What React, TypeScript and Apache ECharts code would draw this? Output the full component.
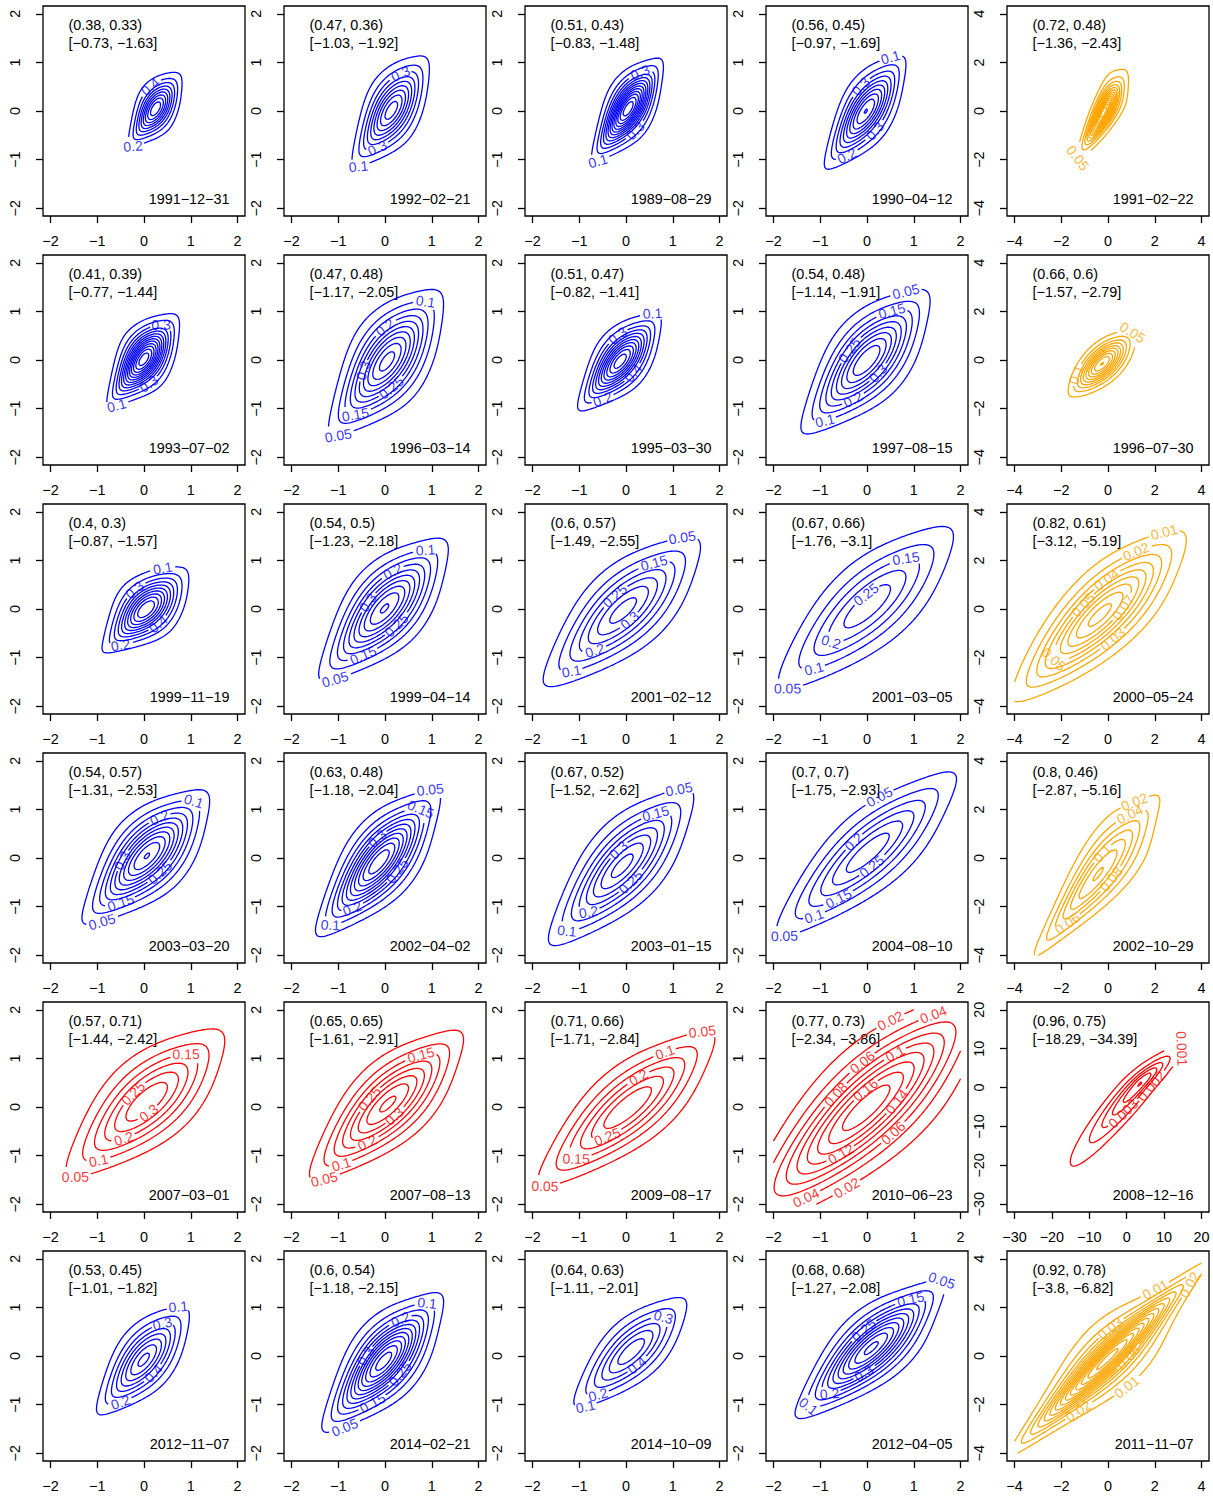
import React, { useEffect, useRef } from "react";
import * as echarts from "echarts";

// ---------------- data ----------------
const panelDates = [
  "1991-12-31", "1992-02-21", "1989-08-29", "1990-04-12", "1991-02-22",
  "1993-07-02", "1996-03-14", "1995-03-30", "1997-08-15", "1996-07-30",
  "1999-11-19", "1999-04-14", "2001-02-12", "2001-03-05", "2000-05-24",
  "2003-03-20", "2002-04-02", "2003-01-15", "2004-08-10", "2002-10-29",
  "2007-03-01", "2007-08-13", "2009-08-17", "2010-06-23", "2008-12-16",
  "2012-11-07", "2014-02-21", "2014-10-09", "2012-04-05", "2011-11-07",
];

const dependencePairs = [
  [0.38, 0.33], [0.47, 0.36], [0.51, 0.43], [0.56, 0.45], [0.72, 0.48],
  [0.41, 0.39], [0.47, 0.48], [0.51, 0.47], [0.54, 0.48], [0.66, 0.6],
  [0.4, 0.3], [0.54, 0.5], [0.6, 0.57], [0.67, 0.66], [0.82, 0.61],
  [0.54, 0.57], [0.63, 0.48], [0.67, 0.52], [0.7, 0.7], [0.8, 0.46],
  [0.57, 0.71], [0.65, 0.65], [0.71, 0.66], [0.77, 0.73], [0.96, 0.75],
  [0.53, 0.45], [0.6, 0.54], [0.64, 0.63], [0.68, 0.68], [0.92, 0.78],
];

const riskPairs = [
  [-0.73, -1.63], [-1.03, -1.92], [-0.83, -1.48], [-0.97, -1.69], [-1.36, -2.43],
  [-0.77, -1.44], [-1.17, -2.05], [-0.82, -1.41], [-1.14, -1.91], [-1.57, -2.79],
  [-0.87, -1.57], [-1.23, -2.18], [-1.49, -2.55], [-1.76, -3.1], [-3.12, -5.19],
  [-1.31, -2.53], [-1.18, -2.04], [-1.52, -2.62], [-1.75, -2.93], [-2.87, -5.16],
  [-1.44, -2.42], [-1.61, -2.91], [-1.71, -2.84], [-2.34, -3.86], [-18.29, -34.39],
  [-1.01, -1.82], [-1.18, -2.15], [-1.11, -2.01], [-1.27, -2.08], [-3.8, -6.82],
];

const B = "#0000FF", O = "#FFA500", R = "#FF0000";
const panelColors = [
  B, B, B, B, O,
  B, B, B, B, O,
  B, B, B, B, O,
  B, B, B, B, O,
  R, R, R, R, R,
  B, B, B, B, O,
];

// axis kind: n = [-2,2], w = [-4,4], c = [-30,20]
const panelRange = [
  "n", "n", "n", "n", "w",
  "n", "n", "n", "n", "w",
  "n", "n", "n", "n", "w",
  "n", "n", "n", "n", "w",
  "n", "n", "n", "n", "c",
  "n", "n", "n", "n", "w",
];

const ticksNarrow = [-2, -1, 0, 1, 2];
const ticksWide = [-4, -2, 0, 2, 4];
const ticksCrisis = [-30, -20, -10, 0, 10, 20];

// density parameters per panel: margins (location, scale, left/right scale ratio, df; 0 = normal),
// t-copula (rho, df) mixed with a Clayton copula (theta, weight)
const meanX = [0.25, 0.14, 0.05, -0.02, -0.15, 0, 0.05, -0.12, 0, -0.25, 0.05, 0, -0.05, 0.02, -0.3, 0.07, -0.12, -0.07, 0.03, -0.25, 0.07, 0.07, 0.05, 0, 2, 0, -0.02, 0.12, 0.1, 0];
const meanY = [0.05, 0.02, 0.05, 0, 0, 0.02, -0.02, -0.02, 0, -0.15, 0, 0.02, -0.02, 0.07, -0.2, 0.05, -0.07, -0.15, 0.12, -0.45, 0.12, 0.07, 0, 0, 1, -0.07, -0.1, 0.1, 0.17, -0.1];
const scaleX = [0.28, 0.4, 0.34, 0.41, 0.45, 0.35, 0.58, 0.41, 0.65, 0.68, 0.44, 0.65, 0.84, 1.0, 1.75, 0.63, 0.6, 0.75, 0.97, 1.3, 0.87, 0.8, 0.95, 1.25, 6.5, 0.49, 0.58, 0.62, 0.72, 1.7];
const scaleY = [0.37, 0.55, 0.47, 0.55, 0.75, 0.43, 0.71, 0.46, 0.7, 0.64, 0.42, 0.69, 0.77, 0.89, 1.65, 0.64, 0.68, 0.78, 0.85, 1.6, 0.78, 0.75, 0.8, 1.15, 5.5, 0.55, 0.64, 0.58, 0.64, 1.6];
const skewX = [1, 1, 1, 1, 1, 1, 1, 1, 1, 1, 1, 1, 1, 1, 1, 1, 1, 1, 1, 1, 1, 1, 1, 1, 1.6, 1, 1, 1, 1, 1];
const skewY = [1, 1, 1, 1, 1, 1, 1, 1, 1, 1, 1, 1, 1, 1, 1, 1, 1, 1, 1, 1, 1, 1, 1, 1, 2.2, 1, 1, 1, 1, 1];
const dfX = [0, 0, 0, 0, 5, 0, 0, 0, 0, 0, 0, 0, 0, 0, 0, 0, 0, 0, 0, 0, 0, 0, 0, 0, 3, 0, 0, 0, 0, 0];
const dfY = [0, 0, 0, 0, 5, 0, 0, 0, 0, 0, 0, 0, 0, 0, 0, 0, 0, 0, 0, 0, 0, 0, 0, 0, 3, 0, 0, 0, 0, 0];
const copulaRho = [0.45, 0.52, 0.58, 0.62, 0.75, 0.48, 0.55, 0.58, 0.62, 0.65, 0.45, 0.62, 0.68, 0.72, 0.78, 0.6, 0.68, 0.7, 0.78, 0.8, 0.65, 0.7, 0.75, 0.8, 0.95, 0.6, 0.65, 0.68, 0.74, 0.88];
const copulaDf = [4, 4, 4, 4, 3, 4, 4, 4, 4, 10, 4, 4, 4, 4, 6, 4, 4, 4, 4, 3, 4, 4, 4, 5, 4, 4, 4, 4, 4, 2];
const claytonTheta = [1.5, 1.5, 1.5, 1.5, 2.5, 1.5, 1.5, 1.5, 1.5, 1.5, 1.5, 1.5, 1.5, 1.5, 2, 1.5, 1.5, 1.5, 1.5, 2.5, 1.5, 1.5, 1.5, 1.5, 4, 1.5, 1.5, 1.5, 1.5, 1.5];
const claytonWeight = [0.15, 0.15, 0.15, 0.15, 0.4, 0.15, 0.15, 0.15, 0.15, 0.1, 0.15, 0.15, 0.15, 0.15, 0.15, 0.15, 0.15, 0.15, 0.15, 0.4, 0.15, 0.15, 0.15, 0.15, 0.3, 0.15, 0.15, 0.15, 0.15, 0.15];
const levelStep = [0.2, 0.1, 0.1, 0.1, 0.05, 0.1, 0.05, 0.1, 0.05, 0.05, 0.1, 0.05, 0.05, 0.05, 0.01, 0.05, 0.05, 0.05, 0.05, 0.02, 0.05, 0.05, 0.05, 0.02, 0.001, 0.1, 0.05, 0.1, 0.05, 0.01];

// contour label hints: [level, direction from the mode in degrees]
const labelHints = [
  [[0.2, -120], [0.4, 100]],
  [[0.1, -121], [0.3, 77], [0.3, -110]],
  [[0.1, -120], [0.3, 72], [0.3, -72]],
  [[0.1, 65], [0.3, 100], [0.2, -113], [0.3, -65]],
  [[0.05, -120]],
  [[0.1, -120], [0.3, 64], [0.3, -80]],
  [[0.05, -123], [0.1, 57], [0.15, -120], [0.2, 92], [0.3, -160], [0.25, -80]],
  [[0.1, 56], [0.2, -115], [0.3, 95], [0.4, -40]],
  [[0.05, 60], [0.1, -125], [0.15, 63], [0.2, -110], [0.25, 153], [0.3, -50]],
  [[0.05, 45], [0.1, -155]],
  [[0.1, 67], [0.2, -125], [0.3, 122], [0.4, -50]],
  [[0.05, -125], [0.1, 55], [0.15, -115], [0.2, 77], [0.3, 165], [0.25, -58]],
  [[0.05, 51], [0.1, -130], [0.15, 57], [0.2, -125], [0.25, 120], [0.3, -55]],
  [[0.05, -134], [0.1, -130], [0.15, 51], [0.2, -135], [0.25, 93]],
  [[0.01, 52], [0.02, 60], [0.04, 77], [0.05, 147], [0.07, 17], [0.03, -59], [0.05, -135]],
  [[0.05, -125], [0.1, 50], [0.15, -120], [0.2, 73], [0.25, -50], [0.3, -170]],
  [[0.05, 55], [0.1, -128], [0.15, 52], [0.2, -120], [0.25, -25], [0.3, 95]],
  [[0.05, 53], [0.1, -130], [0.15, 57], [0.2, -125], [0.25, -60], [0.3, 100]],
  [[0.05, 78], [0.05, -135], [0.1, -130], [0.15, -122], [0.2, 140], [0.25, -70]],
  [[0.02, 63], [0.04, 62], [0.1, 77], [0.08, -14], [0.06, -122]],
  [[0.05, -134], [0.1, -130], [0.15, 51], [0.2, -123], [0.25, 148], [0.3, -80]],
  [[0.05, -130], [0.1, -128], [0.15, 56], [0.2, -118], [0.25, 165], [0.3, -60]],
  [[0.05, -136], [0.05, 45], [0.1, 56], [0.15, -135], [0.2, 70], [0.25, -125]],
  [[0.02, 75], [0.04, 49], [0.06, 96], [0.1, 62], [0.08, 159], [0.16, 96], [0.14, 10], [0.12, -119], [0.06, -45], [0.04, -128], [0.02, -104]],
  [[0.001, 40], [0.002, -20], [0.003, -120]],
  [[0.1, 57], [0.3, 63], [0.2, -118], [0.4, -55]],
  [[0.05, -120], [0.1, 53], [0.15, -105], [0.2, 68], [0.25, -40], [0.3, 165]],
  [[0.1, -130], [0.2, -128], [0.3, 48], [0.4, -70]],
  [[0.05, 44], [0.1, -137], [0.15, 51], [0.2, -133], [0.25, 115], [0.3, -106]],
  [[0.01, 55], [0.02, 42], [0.03, 83], [0.06, 6], [0.01, -54], [0.02, -118]],
];

// ---------------- layout ----------------
const W = 1213, H = 1499;
const BOX_W = 202, BOX_H = 210;
const COL_LEFT = [43, 284, 525, 766, 1007];
const ROW_TOP = [6, 255, 504, 753, 1002, 1251];
const FONT = "'Liberation Sans', Arial, Helvetica, sans-serif";
const TXT = 14.4;
const LAB = 14;
const LW = 1.3;
const N = 121;

const axisLimits: any = { n: [-2.16, 2.16], w: [-4.32, 4.32], c: [-32, 22] };
const gridLimits: any = { n: [-2, 2], w: [-4, 4], c: [-30, 20] };
const tickSets: any = { n: ticksNarrow, w: ticksWide, c: ticksCrisis };

// ---------------- math helpers ----------------
function erfc(x: number) {
  const z = Math.abs(x);
  const t = 1 / (1 + 0.5 * z);
  const r = t * Math.exp(-z * z - 1.26551223 + t * (1.00002368 + t * (0.37409196 + t * (0.09678418 + t * (-0.18628806 + t * (0.27886807 + t * (-1.13520398 + t * (1.48851587 + t * (-0.82215223 + t * 0.17087277)))))))));
  return x >= 0 ? r : 2 - r;
}
function lgamma(x: number): number {
  const c = [0.99999999999980993, 676.5203681218851, -1259.1392167224028, 771.32342877765313, -176.61502916214059, 12.507343278686905, -0.13857109526572012, 9.9843695780195716e-6, 1.5056327351493116e-7];
  if (x < 0.5) return Math.log(Math.PI / Math.sin(Math.PI * x)) - lgamma(1 - x);
  x -= 1;
  let a = c[0];
  const t = x + 7.5;
  for (let i = 1; i < 9; i++) a += c[i] / (x + i);
  return 0.5 * Math.log(2 * Math.PI) + (x + 0.5) * Math.log(t) - t + Math.log(a);
}
function simpson(f: (x: number) => number, a: number, b: number, n: number) {
  if (b <= a) return 0;
  const h = (b - a) / n;
  let s = f(a) + f(b);
  for (let i = 1; i < n; i++) s += f(a + i * h) * (i % 2 ? 4 : 2);
  return (s * h) / 3;
}

// Student t quantile via a table in the angle eps (q = -sqrt(nu) cot eps)
function makeTQuantile(nu: number) {
  const M = 3000;
  const e0 = 1e-9, e1 = Math.PI / 2;
  const es: number[] = [], Is: number[] = [];
  const f = (s: number) => Math.pow(Math.sin(s), nu - 1);
  let I = Math.pow(e0, nu) / nu;
  es.push(e0); Is.push(I);
  for (let k = 1; k <= M; k++) {
    const e = e0 * Math.pow(e1 / e0, k / M);
    const a = es[k - 1];
    I += ((e - a) / 6) * (f(a) + 4 * f((a + e) / 2) + f(e));
    es.push(e); Is.push(I);
  }
  const Itot = 2 * I;
  const epsOf = (p: number) => {
    const target = p * Itot;
    if (target <= Is[0]) return Math.pow(nu * target, 1 / nu);
    let lo = 0, hi = M;
    while (hi - lo > 1) { const mid = (lo + hi) >> 1; if (Is[mid] < target) lo = mid; else hi = mid; }
    const t = (Math.log(target) - Math.log(Is[lo])) / (Math.log(Is[hi]) - Math.log(Is[lo]));
    return Math.exp(Math.log(es[lo]) + t * (Math.log(es[hi]) - Math.log(es[lo])));
  };
  return (lo: number, up: number) => {
    if (lo <= 0.5) return -Math.sqrt(nu) / Math.tan(epsOf(Math.max(lo, 1e-300)));
    return Math.sqrt(nu) / Math.tan(epsOf(Math.max(up, 1e-300)));
  };
}

// two-piece margin (left scale = s * skew, right scale = s), normal or Student t
function marginInfo(vals: number[], m: number, s: number, skew: number, nu: number) {
  let Itot = 1;
  const fcos = (p: number) => Math.pow(Math.max(Math.cos(p), 0), nu - 1);
  if (nu) Itot = simpson(fcos, -Math.PI / 2, Math.PI / 2, 2000);
  const lowerTail = (t: number) => {
    if (!nu) return 0.5 * erfc(-t / Math.SQRT2);
    return simpson(fcos, -Math.PI / 2, Math.atan(t / Math.sqrt(nu)), 400) / Itot;
  };
  const logPdf = (t: number) => {
    if (!nu) return -0.5 * t * t - 0.5 * Math.log(2 * Math.PI);
    return -Math.log(Math.sqrt(nu) * Itot) + (nu + 1) * Math.log(Math.cos(Math.atan(t / Math.sqrt(nu))));
  };
  const sL = s * skew, sR = s;
  const wL = (2 * sL) / (sL + sR), wR = (2 * sR) / (sL + sR);
  const lnorm = Math.log(2 / (sL + sR));
  return vals.map((v) => {
    const d = v - m;
    let lo: number, up: number, lp: number;
    if (d <= 0) {
      const t = d / sL;
      lo = wL * lowerTail(t);
      up = 1 - lo;
      lp = lnorm + logPdf(t);
    } else {
      const t = d / sR;
      up = wR * lowerTail(-t);
      lo = 1 - up;
      lp = lnorm + logPdf(t);
    }
    const lu = lo < 0.5 ? Math.log(Math.max(lo, 1e-300)) : Math.log1p(-up);
    return { lo, up, lu, lp, q: 0 };
  });
}

// ---------------- contouring ----------------
function marching(z: Float64Array, xs: number[], ys: number[], level: number) {
  const nx = xs.length, ny = ys.length;
  const pts = new Map<number, number[]>();
  const adj = new Map<number, number[]>();
  const V = nx * ny;
  const val = (i: number, j: number) => z[j * nx + i];
  const hp = (i: number, j: number) => {
    const id = j * nx + i;
    if (!pts.has(id)) {
      const a = val(i, j), b = val(i + 1, j);
      const t = (level - a) / (b - a);
      pts.set(id, [xs[i] + t * (xs[i + 1] - xs[i]), ys[j]]);
    }
    return id;
  };
  const vp = (i: number, j: number) => {
    const id = V + j * nx + i;
    if (!pts.has(id)) {
      const a = val(i, j), b = val(i, j + 1);
      const t = (level - a) / (b - a);
      pts.set(id, [xs[i], ys[j] + t * (ys[j + 1] - ys[j])]);
    }
    return id;
  };
  const link = (a: number, b: number) => {
    if (!adj.has(a)) adj.set(a, []);
    if (!adj.has(b)) adj.set(b, []);
    adj.get(a)!.push(b);
    adj.get(b)!.push(a);
  };
  for (let j = 0; j < ny - 1; j++) {
    for (let i = 0; i < nx - 1; i++) {
      const v0 = val(i, j), v1 = val(i + 1, j), v2 = val(i + 1, j + 1), v3 = val(i, j + 1);
      const idx = (v0 > level ? 1 : 0) | (v1 > level ? 2 : 0) | (v2 > level ? 4 : 0) | (v3 > level ? 8 : 0);
      if (idx === 0 || idx === 15) continue;
      const Bq = () => hp(i, j), T = () => hp(i, j + 1), L = () => vp(i, j), Rr = () => vp(i + 1, j);
      const center = (v0 + v1 + v2 + v3) / 4 > level;
      switch (idx) {
        case 1: case 14: link(L(), Bq()); break;
        case 2: case 13: link(Bq(), Rr()); break;
        case 3: case 12: link(L(), Rr()); break;
        case 4: case 11: link(Rr(), T()); break;
        case 6: case 9: link(Bq(), T()); break;
        case 7: case 8: link(L(), T()); break;
        case 5:
          if (center) { link(L(), T()); link(Bq(), Rr()); } else { link(L(), Bq()); link(Rr(), T()); }
          break;
        case 10:
          if (center) { link(L(), Bq()); link(Rr(), T()); } else { link(L(), T()); link(Bq(), Rr()); }
          break;
      }
    }
  }
  const visited = new Set<number>();
  const pieces: { pts: number[][]; closed: boolean }[] = [];
  const walk = (start: number) => {
    const path = [start];
    visited.add(start);
    let cur = start;
    let closed = false;
    while (true) {
      const nb = adj.get(cur)!;
      let next = -1;
      for (const n of nb) if (!visited.has(n)) { next = n; break; }
      if (next < 0) {
        if (path.length > 2 && nb.includes(start)) closed = true;
        break;
      }
      visited.add(next);
      path.push(next);
      cur = next;
    }
    const p = path.map((id) => pts.get(id)!);
    if (closed) p.push(p[0]);
    if (p.length >= 2) pieces.push({ pts: p, closed });
  };
  for (const [id, nb] of adj) if (nb.length === 1 && !visited.has(id)) walk(id);
  for (const [id] of adj) if (!visited.has(id)) walk(id);
  return pieces;
}

function fmtLevel(v: number) {
  return String(parseFloat(v.toFixed(6)));
}
function textWidth(s: string, size: number) {
  let w = 0;
  for (const ch of s) w += ch === "." ? 0.278 : 0.556;
  return w * size;
}

function buildPanel(k: number) {
  const kind = panelRange[k];
  const [glo, ghi] = gridLimits[kind];
  const [amin, amax] = axisLimits[kind];
  const kx = BOX_W / (amax - amin), ky = BOX_H / (amax - amin);
  const xs: number[] = [], ys: number[] = [];
  for (let i = 0; i < N; i++) {
    xs.push(glo + ((ghi - glo) * i) / (N - 1));
    ys.push(glo + ((ghi - glo) * i) / (N - 1));
  }
  const mx = marginInfo(xs, meanX[k], scaleX[k], skewX[k], dfX[k]);
  const my = marginInfo(ys, meanY[k], scaleY[k], skewY[k], dfY[k]);
  const nu = copulaDf[k], r = copulaRho[k];
  const tq = makeTQuantile(nu);
  for (const m of mx) m.q = tq(m.lo, m.up);
  for (const m of my) m.q = tq(m.lo, m.up);
  const th = claytonTheta[k], w = claytonWeight[k];
  const r2 = 1 - r * r;
  const C = lgamma((nu + 2) / 2) + lgamma(nu / 2) - 2 * lgamma((nu + 1) / 2) - 0.5 * Math.log(r2);
  const lq = (q: number) => Math.log(1 + (q * q) / nu);
  const mxl = mx.map((m) => lq(m.q)), myl = my.map((m) => lq(m.q));
  const z = new Float64Array(N * N);
  let zmax = -1, mode = [0, 0];
  for (let j = 0; j < N; j++) {
    const b = my[j];
    for (let i = 0; i < N; i++) {
      const a = mx[i];
      const lc = Math.log(1 + th) + (-th - 1) * (a.lu + b.lu) + (-1 / th - 2) * Math.log(Math.exp(-th * a.lu) + Math.exp(-th * b.lu) - 1);
      const Q = (a.q * a.q - 2 * r * a.q * b.q + b.q * b.q) / (nu * r2);
      const lt = C - ((nu + 2) / 2) * Math.log(1 + Q) + ((nu + 1) / 2) * (mxl[i] + myl[j]);
      const c = w * Math.exp(lc) + (1 - w) * Math.exp(lt);
      let v = c * Math.exp(a.lp + b.lp);
      if (!isFinite(v)) v = 0;
      z[j * N + i] = v;
      if (v > zmax) { zmax = v; mode = [xs[i], ys[j]]; }
    }
  }
  const step = levelStep[k];
  const levelPieces: { level: number; pts: number[][]; closed: boolean }[] = [];
  for (let q = 1; q * step < zmax && q < 40; q++) {
    const lev = parseFloat((q * step).toFixed(6));
    for (const p of marching(z, xs, ys, lev)) levelPieces.push({ level: lev, ...p });
  }
  // labels placed on the contour, with a gap cut into the line
  const labels: any[] = [];
  const plen = (p: number[], q: number[]) => Math.hypot((p[0] - q[0]) * kx, (p[1] - q[1]) * ky);
  for (const [lev, ang] of labelHints[k] as number[][]) {
    const text = fmtLevel(lev);
    const half = textWidth(text, LAB) / 2 + 1.5;
    let best = -1, bestIdx = -1, bestD = 1e9;
    levelPieces.forEach((pc, pi) => {
      if (Math.abs(pc.level - lev) > 1e-9) return;
      const pts = pc.pts;
      const cum = [0];
      for (let t = 1; t < pts.length; t++) cum.push(cum[t - 1] + plen(pts[t - 1], pts[t]));
      const total = cum[cum.length - 1];
      if (total < 2 * half + 4) return;
      for (let t = 0; t < pts.length; t++) {
        if (!pc.closed && (cum[t] < half + 1 || total - cum[t] < half + 1)) continue;
        const a = (Math.atan2((pts[t][1] - mode[1]) * ky, (pts[t][0] - mode[0]) * kx) * 180) / Math.PI;
        const d = Math.abs(((a - ang + 540) % 360) - 180);
        if (d < bestD) { bestD = d; best = pi; bestIdx = t; }
      }
    });
    if (best < 0) continue;
    const pc = levelPieces[best];
    let pts = pc.pts;
    let idx = bestIdx;
    if (pc.closed) {
      const ring = pts.slice(0, pts.length - 1);
      const m = ring.length;
      const np: number[][] = [];
      for (let t = 0; t <= m; t++) np.push(ring[(idx + t) % m]);
      pts = np;
      idx = 0;
    }
    const p0 = pts[idx];
    const ia = Math.max(0, idx - 2), ib = Math.min(pts.length - 1, idx + 2);
    let tx = (pts[ib][0] - pts[ia][0]) * kx, ty = (pts[ib][1] - pts[ia][1]) * ky;
    if (pc.closed) {
      const prev = pts[pts.length - 3], nxt = pts[2];
      tx = (nxt[0] - prev[0]) * kx; ty = (nxt[1] - prev[1]) * ky;
    }
    let rot = (Math.atan2(ty, tx) * 180) / Math.PI;
    if (rot > 90) rot -= 180;
    if (rot <= -90) rot += 180;
    labels.push({ name: text, value: [p0[0], p0[1]], label: { rotate: rot, fontSize: LAB } });
    if (pc.closed) {
      let s = 0, acc = 0;
      while (s < pts.length - 1 && acc < half) { acc += plen(pts[s], pts[s + 1]); s++; }
      let e = pts.length - 1; acc = 0;
      while (e > 0 && acc < half) { acc += plen(pts[e], pts[e - 1]); e--; }
      levelPieces[best] = { level: pc.level, pts: pts.slice(s, e + 1), closed: false };
    } else {
      let s = idx, acc = 0;
      while (s > 0 && acc < half) { acc += plen(pts[s], pts[s - 1]); s--; }
      let e = idx; acc = 0;
      while (e < pts.length - 1 && acc < half) { acc += plen(pts[e], pts[e + 1]); e++; }
      const A = pts.slice(0, s + 1), Bp = pts.slice(e);
      levelPieces[best] = { level: pc.level, pts: A, closed: false };
      levelPieces.push({ level: pc.level, pts: Bp, closed: false });
    }
  }
  return { pieces: levelPieces.filter((p) => p.pts.length >= 2), labels };
}

const fmtNum = (v: number) => (v < 0 ? "\u2212" + String(Math.abs(v)) : String(v));

function buildOption() {
  const grid: any[] = [], xAxis: any[] = [], yAxis: any[] = [], series: any[] = [], graphic: any[] = [];
  for (let k = 0; k < 30; k++) {
    const row = Math.floor(k / 5), col = k % 5;
    const left = COL_LEFT[col], top = ROW_TOP[row];
    const kind = panelRange[k];
    const [amin, amax] = axisLimits[kind];
    const ticks = tickSets[kind];
    const color = panelColors[k];
    grid.push({ left, top, width: BOX_W, height: BOX_H, show: true, borderColor: "#000", borderWidth: LW, backgroundColor: "transparent", containLabel: false });
    const axisCommon = {
      gridIndex: k, type: "value", min: amin, max: amax,
      splitLine: { show: false },
      axisLine: { show: false, onZero: false },
      axisTick: { show: true, length: 7, lineStyle: { color: "#000", width: LW }, customValues: ticks },
    };
    xAxis.push({
      ...axisCommon,
      axisLabel: { customValues: ticks, formatter: fmtNum, fontSize: TXT, fontFamily: FONT, color: "#000", margin: 18, hideOverlap: false },
    });
    yAxis.push({
      ...axisCommon,
      axisLabel: { customValues: ticks, formatter: fmtNum, fontSize: TXT, fontFamily: FONT, color: "#000", margin: 21, rotate: 90, hideOverlap: false },
    });
    const { pieces, labels } = buildPanel(k);
    for (const pc of pieces) {
      series.push({
        type: "line", xAxisIndex: k, yAxisIndex: k, data: pc.pts, showSymbol: false, symbol: "none",
        lineStyle: { color, width: LW }, silent: true, animation: false, clip: true, z: 2,
      });
    }
    series.push({
      type: "scatter", xAxisIndex: k, yAxisIndex: k, data: labels, symbolSize: 1, silent: true, animation: false,
      itemStyle: { color: "rgba(0,0,0,0)" },
      label: { show: true, position: "inside", formatter: "{b}", color, fontSize: LAB, fontFamily: FONT },
      z: 3,
    });
    const [d1, d2] = dependencePairs[k];
    const [r1, r2] = riskPairs[k];
    const textStyle = (text: string, align: string) => ({ text, fill: "#000", font: `${TXT}px ${FONT}`, textAlign: align, textVerticalAlign: "middle", align, verticalAlign: "middle" });
    graphic.push({ type: "text", x: left + 25.5, y: top + 18.7, style: textStyle(`(${d1}, ${d2})`, "left"), silent: true });
    graphic.push({ type: "text", x: left + 25.5, y: top + 36.7, style: textStyle(`[${fmtNum(r1)}, ${fmtNum(r2)}]`, "left"), silent: true });
    graphic.push({ type: "text", x: left + BOX_W - 15.5, y: top + BOX_H - 16.7, style: textStyle(panelDates[k].replace(/-/g, "\u2212"), "right"), silent: true });
  }
  return { animation: false, backgroundColor: "#fff", grid, xAxis, yAxis, series, graphic };
}

export default function App() {
  const ref = useRef<HTMLDivElement>(null);
  useEffect(() => {
    document.body.style.margin = "0";
    const chart = echarts.init(ref.current!, undefined, { renderer: "svg" });
    chart.setOption(buildOption() as any);
    return () => chart.dispose();
  }, []);
  return <div ref={ref} style={{ width: W, height: H }} />;
}
